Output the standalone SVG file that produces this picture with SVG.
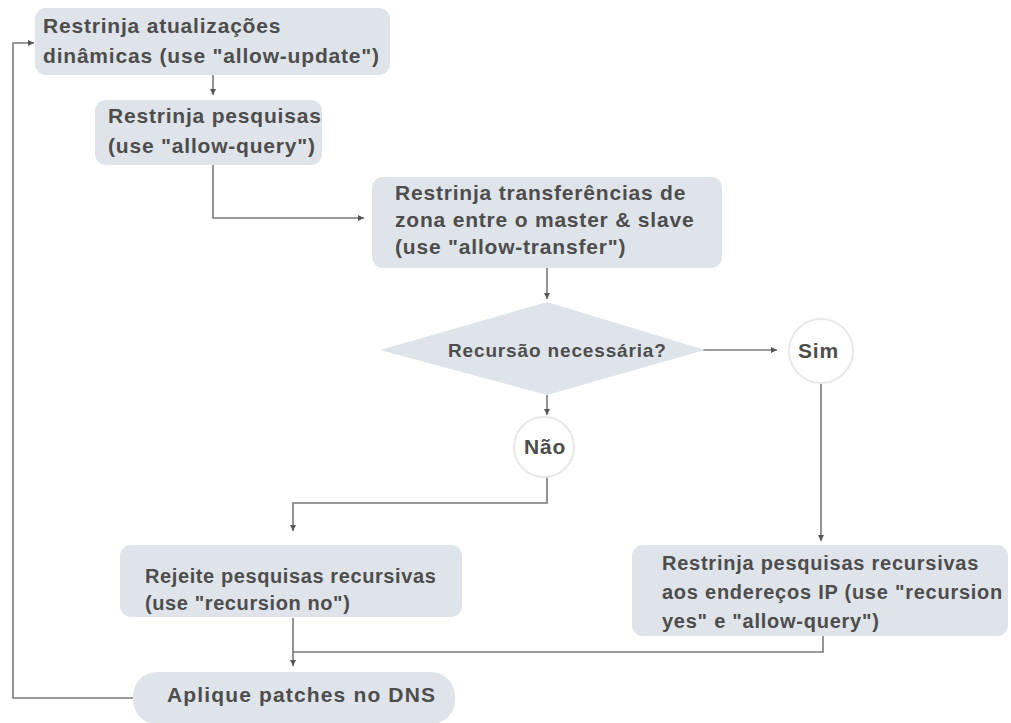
<svg xmlns="http://www.w3.org/2000/svg" width="1011" height="723" viewBox="0 0 1011 723">
<defs>
<style>
.box{fill:#dfe4ea;}
.circ{fill:#ffffff;stroke:#e6e8ec;stroke-width:2;}
.t{font-family:"Liberation Sans",Arial,sans-serif;font-weight:bold;font-size:21px;fill:#4d4d4d;letter-spacing:0.8px;}
.s20{font-size:20px;letter-spacing:0.6px;}
.s19{font-size:19px;letter-spacing:0.85px;}
.c{fill:none;stroke:#7a7a7a;stroke-width:1.6;}
</style>
<marker id="ah" viewBox="0 0 10 10" refX="10" refY="5" markerWidth="6" markerHeight="6" markerUnits="userSpaceOnUse" orient="auto">
<path d="M0,0 L10,5 L0,10 z" fill="#555"/>
</marker>
</defs>
<rect width="1011" height="723" fill="#ffffff"/>
<g id="connectors">
<path class="c" d="M213,75 V95" marker-end="url(#ah)"/>
<path class="c" d="M213,165 V218 H364" marker-end="url(#ah)"/>
<path class="c" d="M547,268 V299" marker-end="url(#ah)"/>
<path class="c" d="M703,350 H777" marker-end="url(#ah)"/>
<path class="c" d="M547,395 V415" marker-end="url(#ah)"/>
<path class="c" d="M547,477 V503 H293 V531" marker-end="url(#ah)"/>
<path class="c" d="M821,383 V541" marker-end="url(#ah)"/>
<path class="c" d="M293,618 V666" marker-end="url(#ah)"/>
<path class="c" d="M823,636 V652 H293"/>
<path class="c" d="M133,698 H13 V43 H34" marker-end="url(#ah)"/>
</g>
<g id="n1">
<rect class="box" x="35" y="8" width="355" height="67" rx="11"/>
<text class="t" x="43" y="33">Restrinja atualizações</text>
<text class="t" x="43" y="63">dinâmicas (use "allow-update")</text>
</g>
<g id="n2">
<rect class="box" x="95" y="100" width="227" height="65" rx="11"/>
<text class="t" x="108" y="123">Restrinja pesquisas</text>
<text class="t" x="108" y="153">(use "allow-query")</text>
</g>
<g id="n3">
<rect class="box" x="372" y="177" width="350" height="91" rx="11"/>
<text class="t" x="395" y="200">Restrinja transferências de</text>
<text class="t" x="395" y="227">zona entre o master &amp; slave</text>
<text class="t" x="395" y="254">(use "allow-transfer")</text>
</g>
<g id="decision">
<polygon class="box" points="380,350 547,302 705,350 547,395"/>
<text class="t s19" x="448" y="357">Recursão necessária?</text>
</g>
<g id="sim">
<circle class="circ" cx="821" cy="351" r="32"/>
<text class="t" x="798" y="358">Sim</text>
</g>
<g id="nao">
<circle class="circ" cx="544" cy="447" r="30"/>
<text class="t" x="524" y="454">Não</text>
</g>
<g id="rejeite">
<rect class="box" x="120" y="545" width="342" height="72" rx="11"/>
<text class="t s20" x="145" y="583">Rejeite pesquisas recursivas</text>
<text class="t s20" x="145" y="610">(use "recursion no")</text>
</g>
<g id="restrinja-rec">
<rect class="box" x="632" y="545" width="376" height="91" rx="11"/>
<text class="t s20" x="662" y="570" style="letter-spacing:0.75px">Restrinja pesquisas recursivas</text>
<text class="t s20" x="662" y="599" style="letter-spacing:0.75px">aos endereços IP (use "recursion</text>
<text class="t s20" x="662" y="628" style="letter-spacing:0.75px">yes" e "allow-query")</text>
</g>
<g id="aplique">
<rect class="box" x="133" y="672" width="322" height="52" rx="24"/>
<text class="t" x="167" y="702" style="letter-spacing:1.15px">Aplique patches no DNS</text>
</g>
</svg>
